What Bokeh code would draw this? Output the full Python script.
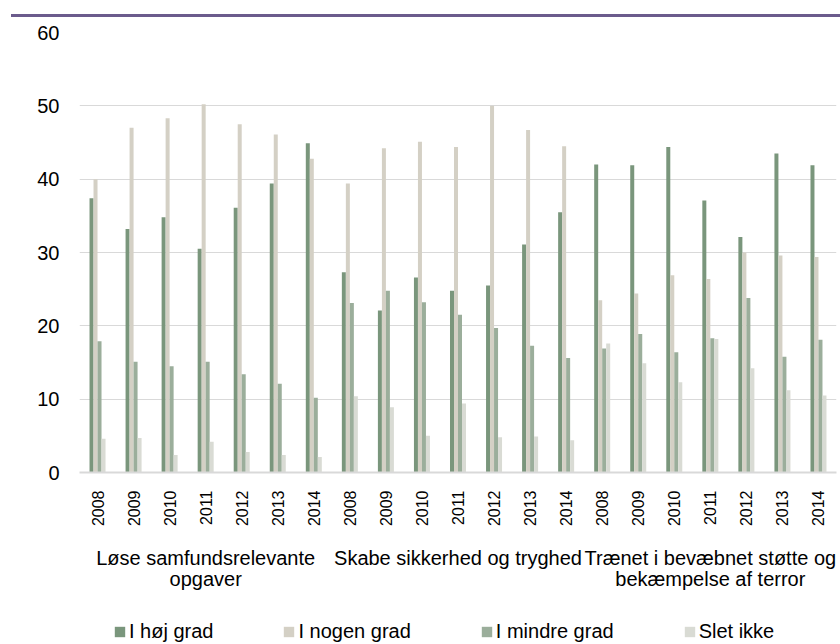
import numpy as np
from bokeh.plotting import figure
from bokeh.models import (ColumnDataSource, FixedTicker, Legend, LegendItem,
                          Label, Range1d, Div)
from bokeh.layouts import column
from bokeh.embed import file_html
from bokeh.resources import INLINE

# ---------------- data ----------------
category_lines = [
    ["Løse samfundsrelevante", "opgaver"],
    ["Skabe sikkerhed og tryghed"],
    ["Trænet i bevæbnet støtte og", "bekæmpelse af terror"],
]
years = ["2008", "2009", "2010", "2011", "2012", "2013", "2014"]
series_names = ["I høj grad", "I nogen grad", "I mindre grad", "Slet ikke"]

hoj = [37.4, 33.2, 34.8, 30.5, 36.1, 39.4, 44.9,
       27.3, 22.1, 26.6, 24.8, 25.5, 31.1, 35.5,
       42.0, 41.9, 44.4, 37.1, 32.1, 43.5, 41.9]
nogen = [40.0, 47.0, 48.3, 50.2, 47.5, 46.1, 42.8,
         39.4, 44.2, 45.1, 44.4, 50.0, 46.7, 44.5,
         23.5, 24.4, 26.9, 26.4, 30.0, 29.6, 29.4]
mindre = [17.9, 15.1, 14.5, 15.1, 13.4, 12.1, 10.2,
          23.1, 24.8, 23.2, 21.5, 19.7, 17.3, 15.6,
          16.9, 18.9, 16.4, 18.3, 23.8, 15.8, 18.1]
slet = [4.6, 4.7, 2.4, 4.2, 2.8, 2.4, 2.1,
        10.4, 8.9, 5.0, 9.4, 4.8, 4.9, 4.4,
        17.6, 14.9, 12.3, 18.2, 14.2, 11.2, 10.5]

# ---------------- styles ----------------
FONT = "Liberation Sans"
colors = ["#7a967c", "#d4d0c5", "#9bae9b", "#d9dbd4"]
grid_color = "#d9d9d9"
purple = "#6b5b8c"
W = 840
LEFT, RIGHT = 79, 4

n_groups = len(category_lines)
n_years = len(years)
slots = np.arange(n_groups * n_years)
bar_w = 0.111
offsets = [-1.5 * bar_w, -0.5 * bar_w, 0.5 * bar_w, 1.5 * bar_w]
xr = Range1d(-0.5, n_groups * n_years - 0.5)

# ---------------- top rule ----------------
top = Div(text=('<div style="margin:14px 0 0 11px;width:829px;height:0;'
                'border-top:3px solid %s;"></div>' % purple),
          width=W, height=22, margin=0)

# ---------------- main chart ----------------
p = figure(width=W, height=513, x_range=xr, y_range=Range1d(0, 60),
           toolbar_location=None, output_backend="svg",
           min_border_left=LEFT, min_border_right=RIGHT, min_border_top=10, min_border_bottom=63)
p.outline_line_color = None
p.xgrid.visible = False
p.ygrid.grid_line_color = grid_color
p.ygrid.grid_line_width = 1

sources = []
for vals, off, col in zip([hoj, nogen, mindre, slet], offsets, colors):
    src = ColumnDataSource(dict(x=slots + off, top=vals))
    sources.append(src)
    p.vbar(x="x", top="top", width=bar_w, source=src, fill_color=col, line_color=None)

# y axis
p.yaxis.ticker = FixedTicker(ticks=[0, 10, 20, 30, 40, 50, 60])
p.yaxis.axis_line_color = None
p.yaxis.major_tick_line_color = None
p.yaxis.minor_tick_line_color = None
p.yaxis.major_label_standoff = 14
p.yaxis.major_label_text_font = FONT
p.yaxis.major_label_text_font_size = "20px"
p.yaxis.major_label_text_color = "#000000"

# x axis (years)
p.xaxis.ticker = FixedTicker(ticks=[int(s) for s in slots])
p.xaxis.major_label_overrides = {int(s): years[int(s) % n_years] for s in slots}
p.xaxis.major_label_orientation = np.pi / 2
p.xaxis.axis_line_color = grid_color
p.xaxis.axis_line_width = 2
p.xaxis.major_tick_line_color = None
p.xaxis.minor_tick_line_color = None
p.xaxis.major_label_standoff = 12
p.xaxis.major_label_text_font = FONT
p.xaxis.major_label_text_font_size = "16px"
p.xaxis.major_label_text_color = "#000000"

# ---------------- category labels + legend ----------------
BH = 108
b = figure(width=W, height=BH, x_range=xr, y_range=Range1d(0, BH),
           toolbar_location=None, output_backend="svg",
           min_border_left=LEFT, min_border_right=RIGHT, min_border_top=0, min_border_bottom=0)
b.axis.visible = False
b.grid.visible = False
b.outline_line_color = None

for g, lines in enumerate(category_lines):
    cx = g * n_years + (n_years - 1) / 2.0
    for k, line in enumerate(lines):
        b.add_layout(Label(x=cx, y=BH - 22 - 21 * k, text=line,
                           text_align="center", text_baseline="middle",
                           text_font=FONT, text_font_size="20px", text_color="#000000"))

# zero-size proxies (left == right, bottom == top) that only carry the legend swatches
legend_renderers = []
for src, col in zip(sources, colors):
    legend_renderers.append(b.quad(left="x", right="x", top="top", bottom="top", source=src,
                                   fill_color=col, line_color=None))

legend = Legend(items=[LegendItem(label=n, renderers=[r]) for n, r in zip(series_names, legend_renderers)],
                orientation="horizontal", location=(113 - LEFT, 0),
                glyph_width=13, glyph_height=13, label_standoff=3, spacing=69,
                padding=0, margin=0, border_line_color=None, background_fill_alpha=0,
                label_text_font=FONT, label_text_font_size="20px", label_text_color="#000000")
b.add_layout(legend)

layout = column(top, p, b, spacing=0)
open("out.html", "w").write(file_html(layout, INLINE))
